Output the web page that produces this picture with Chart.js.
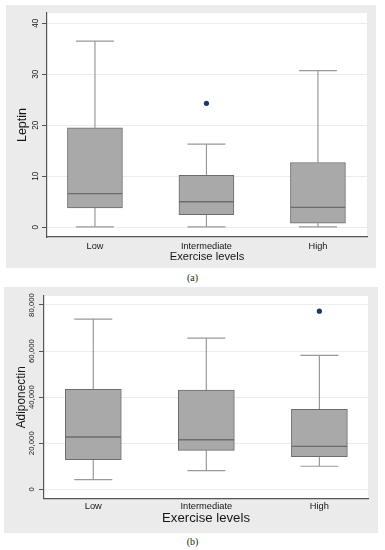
<!DOCTYPE html>
<html>
<head>
<meta charset="utf-8">
<script src="https://cdn.jsdelivr.net/npm/chart.js@4.4.1/dist/chart.umd.min.js"></script>
<style>
  body { margin: 0; background: #fff; width: 385px; height: 550px; position: relative; overflow: hidden; }
  .panel { position: absolute; background: #ebebeb; }
  .panel canvas { display: block; }
  .caption { position: absolute; left: 0; width: 385px; text-align: center; line-height: 12px;
             font: 10px "Liberation Serif", "DejaVu Serif", serif; color: #222; }
</style>
</head>
<body>
<div class="panel" style="left:6px;top:5px;width:370px;height:263px"><canvas id="leptinChart" width="370" height="263"></canvas></div>
<div class="caption" style="top:272px">(a)</div>
<div class="panel" style="left:4px;top:287px;width:374px;height:246px"><canvas id="adipoChart" width="374" height="246"></canvas></div>
<div class="caption" style="top:536px">(b)</div>
<script>
// groups on the x axis
const categories = ['Low', 'Intermediate', 'High'];

// (a) Leptin box statistics
const leptinMin = [0.1, 0.1, 0.1];
const leptinQ1 = [3.8, 2.5, 0.8];
const leptinMedian = [6.6, 5.0, 3.9];
const leptinQ3 = [19.5, 10.2, 12.7];
const leptinMax = [36.5, 16.3, 30.7];
const leptinOutliers = [null, 24.3, null];
const leptinTicks = [0, 10, 20, 30, 40];

// (b) Adiponectin box statistics
const adipoMin = [4200, 8100, 10000];
const adipoQ1 = [12850, 16900, 14150];
const adipoMedian = [22700, 21500, 18650];
const adipoQ3 = [43400, 43100, 34700];
const adipoMax = [73900, 65600, 58100];
const adipoOutliers = [null, null, 77300];
const adipoTicks = [0, 20000, 40000, 60000, 80000];

const FONT = "'Liberation Sans', Arial, sans-serif";
const INK = '#151515';
const AXIS = '#555';

// white plot region on the grey panel
const plotBg = {
  id: 'plotBg',
  beforeDraw(chart) {
    const { ctx, chartArea: a } = chart;
    ctx.save();
    ctx.fillStyle = '#fff';
    ctx.fillRect(a.left, a.top, a.width, a.height);
    ctx.restore();
  }
};

// whiskers + caps, drawn through the chart scales
function whiskerPlugin(s, cap) {
  return {
    id: 'whiskers',
    beforeDatasetsDraw(chart) {
      const { ctx, scales: { x, y } } = chart;
      ctx.save();
      ctx.strokeStyle = '#999';
      ctx.lineWidth = 1.2;
      categories.forEach((_, i) => {
        const px = x.getPixelForValue(i);
        [[s.q1[i], s.min[i]], [s.q3[i], s.max[i]]].forEach(([from, to]) => {
          const y0 = y.getPixelForValue(from);
          const y1 = y.getPixelForValue(to);
          ctx.beginPath();
          ctx.moveTo(px, y0);
          ctx.lineTo(px, y1);
          ctx.moveTo(px - cap, y1);
          ctx.lineTo(px + cap, y1);
          ctx.stroke();
        });
      });
      ctx.restore();
    }
  };
}

function boxChart(id, s, cfg) {
  const boxStyle = {
    type: 'bar',
    backgroundColor: '#a9a9a9',
    borderColor: '#6c6c6c',
    borderWidth: 1,
    borderSkipped: false,
    barThickness: cfg.boxWidth,
    grouped: false
  };

  const datasets = [
    { ...boxStyle, data: categories.map((_, i) => ({ x: i, y: [s.q1[i], s.median[i]] })) },
    { ...boxStyle, data: categories.map((_, i) => ({ x: i, y: [s.median[i], s.q3[i]] })) },
    {
      type: 'scatter',
      data: s.outliers.map((v, i) => ({ x: i, y: v })).filter(p => p.y !== null),
      pointRadius: 2.6,
      pointBorderWidth: 0,
      backgroundColor: '#1b3b66'
    }
  ];

  new Chart(document.getElementById(id), {
    type: 'bar',
    data: { datasets },
    plugins: [plotBg, whiskerPlugin(s, cfg.cap)],
    options: {
      responsive: false,
      animation: false,
      events: [],
      layout: { padding: cfg.padding },
      plugins: { legend: { display: false }, tooltip: { enabled: false } },
      scales: {
        x: {
          type: 'linear',
          offset: false,
          min: cfg.xMin,
          max: cfg.xMax,
          afterBuildTicks: sc => { sc.ticks = categories.map((_, i) => ({ value: i })); },
          afterFit: sc => { sc.height = cfg.xAxisHeight; },
          grid: { display: false, drawTicks: false },
          border: { display: true, color: AXIS, width: 1.2 },
          ticks: {
            padding: cfg.xTickPad,
            color: INK,
            font: { family: FONT, size: cfg.xTickSize, lineHeight: 1 },
            callback: v => categories[v]
          },
          title: {
            display: true,
            text: 'Exercise levels',
            color: INK,
            font: { family: FONT, size: cfg.xTitleSize, lineHeight: 1 },
            padding: cfg.xTitlePad
          }
        },
        y: {
          min: cfg.yMin,
          max: cfg.yMax,
          afterBuildTicks: sc => { sc.ticks = s.ticks.map(v => ({ value: v })); },
          afterFit: sc => { sc.width = cfg.yAxisWidth; },
          grid: { color: '#e8edef', lineWidth: 1, tickLength: 5, tickColor: AXIS },
          border: { color: AXIS, width: 1.2 },
          ticks: {
            minRotation: 90,
            maxRotation: 90,
            crossAlign: 'center',
            padding: cfg.yTickPad,
            color: INK,
            font: { family: FONT, size: cfg.yTickSize, lineHeight: 1 },
            callback: v => v.toLocaleString('en-US')
          },
          title: {
            display: true,
            text: cfg.yTitle,
            color: INK,
            font: { family: FONT, size: cfg.yTitleSize, lineHeight: 1 },
            padding: cfg.yTitlePad
          }
        }
      }
    }
  });
}

boxChart('leptinChart', {
  min: leptinMin, q1: leptinQ1, median: leptinMedian, q3: leptinQ3, max: leptinMax,
  outliers: leptinOutliers, ticks: leptinTicks
}, {
  yTitle: 'Leptin',
  yMin: -1.9, yMax: 42.0, xMin: -0.43, xMax: 2.44,
  padding: { left: 6, top: 8, right: 9, bottom: 5 },
  yAxisWidth: 35, xAxisHeight: 26,
  boxWidth: 55, cap: 19,
  yTickSize: 8.2, yTickPad: 1.5, yTitleSize: 12.5, yTitlePad: { top: 4.75, bottom: 3.2 },
  xTickSize: 9.2, xTickPad: 4.8, xTitleSize: 11.2, xTitlePad: { top: 0, bottom: 0 }
});

boxChart('adipoChart', {
  min: adipoMin, q1: adipoQ1, median: adipoMedian, q3: adipoQ3, max: adipoMax,
  outliers: adipoOutliers, ticks: adipoTicks
}, {
  yTitle: 'Adiponectin',
  yMin: -4000, yMax: 83900, xMin: -0.436, xMax: 2.43,
  padding: { left: 6, top: 9, right: 10, bottom: 5 },
  yAxisWidth: 34, xAxisHeight: 29.5,
  boxWidth: 56, cap: 19,
  yTickSize: 7.8, yTickPad: -4.95, yTitleSize: 11.9, yTitlePad: { top: 6, bottom: 8.2 },
  xTickSize: 9.3, xTickPad: 3.5, xTitleSize: 13.2, xTitlePad: { top: 0, bottom: 3.4 }
});
</script>
</body>
</html>
